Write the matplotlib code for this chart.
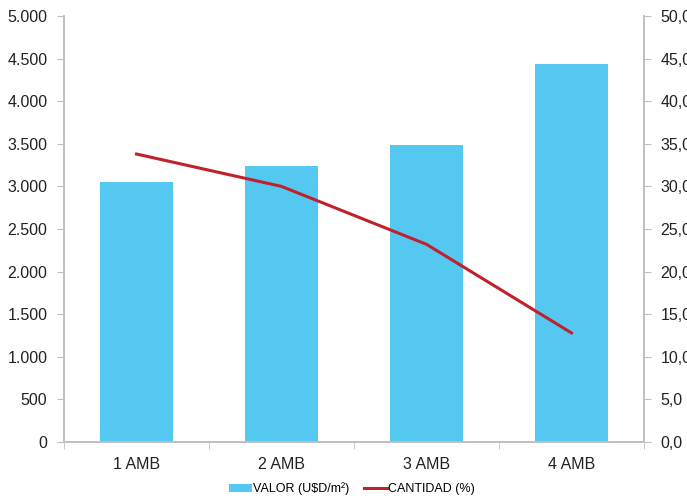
import matplotlib.pyplot as plt
from matplotlib.ticker import FuncFormatter

categorias = ["1 AMB", "2 AMB", "3 AMB", "4 AMB"]
valor = [3050, 3240, 3485, 4440]
cantidad = [33.8, 30.0, 23.2, 12.8]

plt.rcParams['font.family'] = ['Liberation Sans', 'DejaVu Sans']
gris = "#BFBFBF"

fig = plt.figure(figsize=(6.87, 4.99), dpi=100)
ax = fig.add_axes([64/687, 57/499, 580/687, 426/499])
ax2 = ax.twinx()

x = range(len(categorias))
barras = ax.bar(x, valor, width=0.5, color="#55C8F2", label="VALOR (U$D/m²)", zorder=2)
linea, = ax2.plot(x, cantidad, color="#C0212A", linewidth=2.2, label="CANTIDAD (%)", zorder=3)

ax.set_xlim(-0.5, 3.5)
ax.set_ylim(0, 5000)
ax.set_yticks(range(0, 5001, 500))
ax.yaxis.set_major_formatter(FuncFormatter(lambda v, p: f"{int(v):,}".replace(",", ".")))
ax2.set_ylim(0, 50)
ax2.set_yticks(range(0, 51, 5))
ax2.yaxis.set_major_formatter(FuncFormatter(lambda v, p: f"{v:.1f}".replace(".", ",")))

ax.set_xticks(list(x))
ax.set_xticklabels(categorias)
ax.set_xticks([-0.5, 0.5, 1.5, 2.5, 3.5], minor=True)
ax.tick_params(axis="x", which="major", length=0, pad=11, labelsize=11.5, colors="#222222")
ax.tick_params(axis="x", which="minor", length=5, color=gris)
ax.tick_params(axis="y", length=5, color=gris, labelsize=11.5, labelcolor="#222222", pad=7)
ax2.tick_params(axis="y", length=5, color=gris, labelsize=11.5, labelcolor="#222222", pad=7)

for a in (ax, ax2):
    a.spines["top"].set_visible(False)
    for s in ("left", "right", "bottom"):
        a.spines[s].set_color(gris)
        a.spines[s].set_linewidth(1.2)

fig.legend([barras, linea], ["VALOR (U$D/m²)", "CANTIDAD (%)"], loc="center",
           bbox_to_anchor=(352/687, 1 - 489/499), ncol=2, frameon=False, fontsize=9,
           handlelength=1.8, handletextpad=0.1, columnspacing=1.2)

fig.savefig("out.png", dpi=100)
